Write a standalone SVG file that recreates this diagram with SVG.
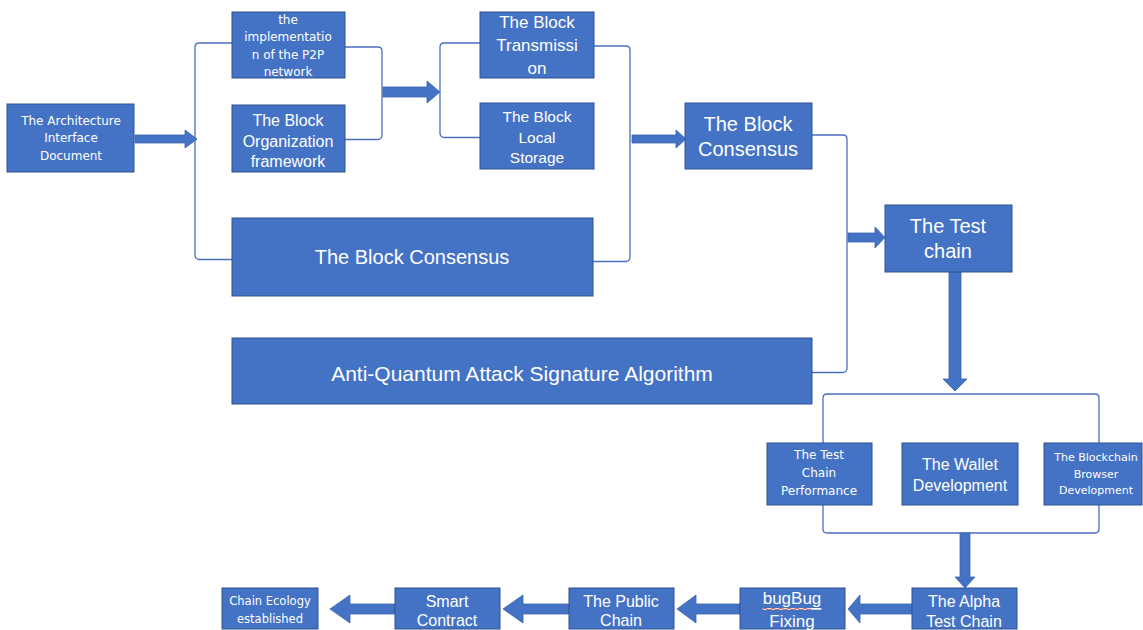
<svg xmlns="http://www.w3.org/2000/svg" width="1143" height="630" viewBox="0 0 1143 630">
<style>
.box{fill:#4472C4;stroke:#2F528F;stroke-width:1}
.br{fill:none;stroke:#4A6FBF;stroke-width:1.3}
.arr{fill:#4472C4;stroke:#3B64B0;stroke-width:0.8}
.t{fill:#FFFFFF;font-family:"Liberation Sans",Arial,sans-serif;text-anchor:middle;dominant-baseline:central}
.y{font-family:"DejaVu Sans","Noto Sans",sans-serif}
</style>
<rect width="1143" height="630" fill="#FFFFFF"/>
<g id="connectors">
<path class="br" d="M232,43 H199 Q195,43 195,47 V255 Q195,259 199,259.5 H232"/>
<path class="br" d="M345,47 H378 Q382,47 382,51 V135 Q382,139 378,139.5 H345"/>
<path class="br" d="M480,43 H444 Q440,43 440,47 V133 Q440,137 444,137.5 H480"/>
<path class="br" d="M594,46 H626 Q630,46 630,50 V257 Q630,261 626,261.5 H593"/>
<path class="br" d="M812,135 H843 Q847,135 847,139 V368 Q847,372 843,372.5 H812"/>
<path class="br" d="M823,443 V398 Q823,394 827,394 H1095 Q1099,394 1099,398 V443"/>
<path class="br" d="M823,505 V529 Q823,533 827,533 H1095 Q1099,533 1099,529 V505"/>
<polygon class="arr" points="135,135 185,135 185,130 197,139 185,148 185,143 135,143"/>
<polygon class="arr" points="383,87 427,87 427,81 440,92 427,103 427,97 383,97"/>
<polygon class="arr" points="632,135 676,135 676,130 686,139 676,148 676,143 632,143"/>
<polygon class="arr" points="848,233 875,233 875,227 885,237.5 875,248 875,242 848,242"/>
<polygon class="arr" points="949,272 961,272 961,379 967,379 955,391 943,379 949,379"/>
<polygon class="arr" points="960,533 970,533 970,577 975,577 965,588 955,577 960,577"/>
<polygon class="arr" points="912,604 860,604 860,595 848,609 860,623 860,614 912,614"/>
<polygon class="arr" points="740,604 696,604 696,595 677,609 696,623 696,614 740,614"/>
<polygon class="arr" points="569,604 523,604 523,595 503,609 523,623 523,614 569,614"/>
<polygon class="arr" points="395,604 350,604 350,595 330,609 350,623 350,614 395,614"/>
</g>
<g id="n-architecture"><rect class="box" x="7" y="104" width="127" height="68"/>
<text class="t y" font-size="12" x="71"><tspan x="71" y="121">The Architecture</tspan><tspan x="71" y="138">Interface</tspan><tspan x="71" y="156">Document</tspan></text></g>
<g id="n-p2p"><rect class="box" x="232" y="12" width="113" height="66"/>
<text class="t y" font-size="12" x="288"><tspan x="288" y="20">the</tspan><tspan x="288" y="37">implementatio</tspan><tspan x="288" y="55">n of the P2P</tspan><tspan x="288" y="72">network</tspan></text></g>
<g id="n-org"><rect class="box" x="232" y="105" width="113" height="67"/>
<text class="t" font-size="16" x="288"><tspan x="288" y="120">The Block</tspan><tspan x="288" y="141">Organization</tspan><tspan x="288" y="161">framework</tspan></text></g>
<g id="n-trans"><rect class="box" x="480" y="12" width="114" height="66"/>
<text class="t" font-size="17" x="537"><tspan x="537" y="22">The Block</tspan><tspan x="537" y="45">Transmissi</tspan><tspan x="537" y="68">on</tspan></text></g>
<g id="n-storage"><rect class="box" x="480" y="103" width="114" height="66"/>
<text class="t" font-size="15.5" x="537"><tspan x="537" y="116">The Block</tspan><tspan x="537" y="137">Local</tspan><tspan x="537" y="157">Storage</tspan></text></g>
<g id="n-consensus1"><rect class="box" x="685" y="103" width="127" height="66"/>
<text class="t" font-size="20" x="748"><tspan x="748" y="124">The Block</tspan><tspan x="748" y="149">Consensus</tspan></text></g>
<g id="n-consensus2"><rect class="box" x="232" y="218" width="361" height="78"/>
<text class="t" font-size="20" x="412" y="257">The Block Consensus</text></g>
<g id="n-antiquantum"><rect class="box" x="232" y="338" width="580" height="66"/>
<text class="t" font-size="21" x="522" y="373">Anti-Quantum Attack Signature Algorithm</text></g>
<g id="n-testchain"><rect class="box" x="885" y="205" width="127" height="67"/>
<text class="t" font-size="20" x="948"><tspan x="948" y="226">The Test</tspan><tspan x="948" y="251">chain</tspan></text></g>
<g id="n-performance"><rect class="box" x="767" y="443" width="105" height="62"/>
<text class="t y" font-size="12" x="819"><tspan x="819" y="455">The Test</tspan><tspan x="819" y="473">Chain</tspan><tspan x="819" y="491">Performance</tspan></text></g>
<g id="n-wallet"><rect class="box" x="902" y="443" width="116" height="62"/>
<text class="t" font-size="16" x="960"><tspan x="960" y="464">The Wallet</tspan><tspan x="960" y="485">Development</tspan></text></g>
<g id="n-browser"><rect class="box" x="1044" y="443" width="98" height="62"/>
<text class="t y" font-size="11" x="1096"><tspan x="1096" y="457">The Blockchain</tspan><tspan x="1096" y="474">Browser</tspan><tspan x="1096" y="490">Development</tspan></text></g>
<g id="n-alpha"><rect class="box" x="912" y="588" width="105" height="41"/>
<text class="t" font-size="16" x="964"><tspan x="964" y="601">The Alpha</tspan><tspan x="964" y="621">Test Chain</tspan></text></g>
<g id="n-bugfix"><rect class="box" x="740" y="588" width="105" height="41"/>
<text class="t" font-size="17" x="792"><tspan x="792" y="598" text-decoration="underline">bugBug</tspan><tspan x="792" y="621">Fixing</tspan></text>
<path d="M763,609 q2,-2 4,0 t4,0 t4,0 t4,0 t4,0 t4,0 t4,0 t4,0 t4,0 t4,0 t4,0 t4,0" fill="none" stroke="#D03030" stroke-width="0.9"/></g>
<g id="n-public"><rect class="box" x="569" y="588" width="105" height="41"/>
<text class="t" font-size="16" x="621"><tspan x="621" y="601">The Public</tspan><tspan x="621" y="620">Chain</tspan></text></g>
<g id="n-smart"><rect class="box" x="395" y="588" width="105" height="41"/>
<text class="t" font-size="16" x="447"><tspan x="447" y="601">Smart</tspan><tspan x="447" y="620">Contract</tspan></text></g>
<g id="n-ecology"><rect class="box" x="222" y="588" width="96" height="41"/>
<text class="t y" font-size="11.5" x="270"><tspan x="270" y="601">Chain Ecology</tspan><tspan x="270" y="619">established</tspan></text></g>
</svg>
